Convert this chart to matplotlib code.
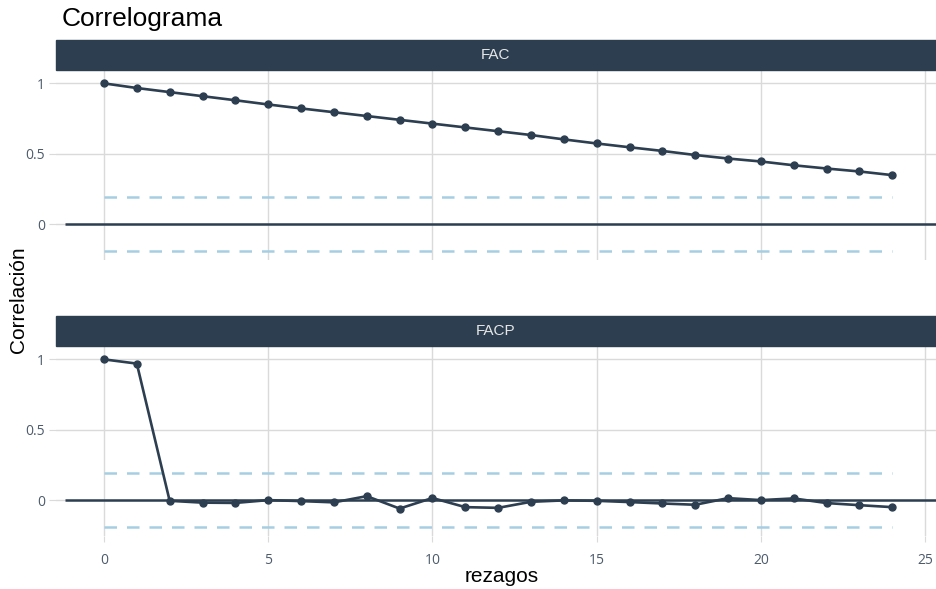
import numpy as np
import matplotlib
matplotlib.use("Agg")
import matplotlib.pyplot as plt
from matplotlib.patches import Rectangle

# Datos del correlograma
rezagos = np.arange(0, 25)
fac = [1.0, 0.967, 0.938, 0.909, 0.880, 0.850, 0.822, 0.795, 0.768, 0.741,
       0.714, 0.687, 0.660, 0.633, 0.602, 0.573, 0.546, 0.520, 0.491, 0.466,
       0.445, 0.418, 0.395, 0.374, 0.348]
facp = [1.0, 0.970, -0.005, -0.018, -0.020, 0.000, -0.007, -0.016, 0.028, -0.060,
        0.015, -0.050, -0.055, -0.012, -0.002, -0.005, -0.014, -0.024, -0.033, 0.014,
        0.000, 0.012, -0.021, -0.036, -0.050]
limite = 0.19
paneles = ["FAC", "FACP"]
x_ticks = [0, 5, 10, 15, 20, 25]
y_ticks = [0, 0.5, 1]
y_labels = ["0", "0.5", "1"]

oscuro = "#2C3E50"
celeste = "#A6CEE3"
grilla = "#DADADA"
txt = "#4D5B6B"

W, H = 936, 589
fig = plt.figure(figsize=(W / 100, H / 100), dpi=100)

def caja(top, bottom):
    # coordenadas en pixeles -> fraccion de figura
    return [56 / W, 1 - bottom / H, (W - 56) / W, (bottom - top) / H]

ax1 = fig.add_axes(caja(70, 260))
ax2 = fig.add_axes(caja(346, 536))

for ax, serie, nombre, strip_top in [(ax1, fac, paneles[0], 40), (ax2, facp, paneles[1], 316)]:
    ax.set_xlim(-1.46, 25.33)
    ax.set_ylim(-0.255, 1.095)
    for s in ax.spines.values():
        s.set_visible(False)
    ax.set_xticks(x_ticks)
    ax.set_yticks(y_ticks)
    ax.set_yticklabels(y_labels)
    ax.grid(True, color=grilla, lw=1)
    ax.set_axisbelow(True)
    ax.tick_params(axis="y", length=5, color=grilla, labelcolor=txt, labelsize=10, pad=3)
    ax.tick_params(axis="x", length=4, color=grilla, labelcolor=txt, labelsize=10, pad=8)
    for lab in ax.get_xticklabels() + ax.get_yticklabels():
        lab.set_fontfamily("Open Sans")

    ax.hlines(0, -1.2, 25.33, color=oscuro, lw=1.8, zorder=2)
    ax.plot(rezagos, [limite] * len(rezagos), color=celeste, lw=1.8,
            dashes=(5, 4), zorder=2)
    ax.plot(rezagos, [-limite] * len(rezagos), color=celeste, lw=1.8,
            dashes=(5, 4), zorder=2)
    ax.plot(rezagos, serie, color=oscuro, lw=1.9, marker="o", ms=5, zorder=3)

    # cabecera del panel
    fig.patches.append(Rectangle((56 / W, 1 - (strip_top + 30) / H), (W - 56) / W, 30 / H,
                                 transform=fig.transFigure, color=oscuro, zorder=0))
    fig.text((56 + W) / 2 / W, 1 - (strip_top + 15) / H, nombre, color="#E6E6E6",
             ha="center", va="center", fontsize=11, family="Liberation Sans")

ax1.tick_params(axis="x", labelbottom=False, length=0)

fig.text(62 / W, 1 - 19 / H, "Correlograma", fontsize=19, family="Liberation Sans",
         va="center", ha="left", color="black")
fig.text(19 / W, 1 - 300 / H, "Correlación", fontsize=15, family="Liberation Sans",
         rotation=90, va="center", ha="center", color="black")
fig.text(502 / W, 1 - 576 / H, "rezagos", fontsize=15, family="Liberation Sans",
         va="center", ha="center", color="black")

fig.savefig("out.png", dpi=100)
